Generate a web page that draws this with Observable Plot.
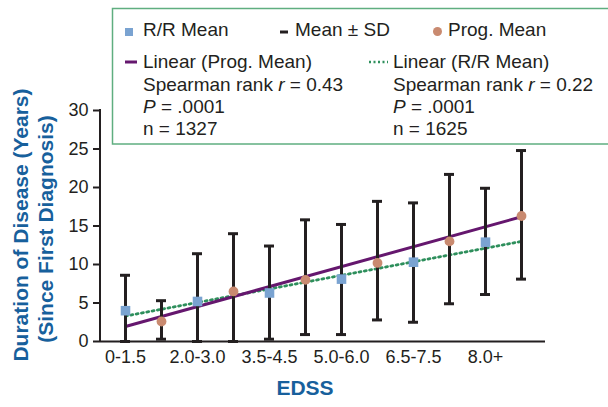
<!DOCTYPE html>
<html>
<head>
<meta charset="utf-8">
<script src="https://cdn.jsdelivr.net/npm/d3@7"></script>
<script src="https://cdn.jsdelivr.net/npm/@observablehq/plot@0.6"></script>
<style>
  html, body { margin: 0; padding: 0; background: #fff; overflow: hidden; }
  #chart { width: 608px; height: 407px; position: relative; }
  svg { font-family: "Liberation Sans", Arial, Helvetica, sans-serif; }
</style>
</head>
<body>
<div id="chart"></div>
<script>
// EDSS groups (x tick labels)
const groups = ["0-1.5", "2.0-3.0", "3.5-4.5", "5.0-6.0", "6.5-7.5", "8.0+"];
// Relapsing/remitting (R/R): mean and mean ± SD (years)
const rrMean  = [4.0, 5.2, 6.3, 8.1, 10.3, 12.9];
const rrUpper = [8.6, 11.4, 12.4, 15.2, 18.0, 19.9];
const rrLower = [0.0, 0.0, 0.3, 0.9, 2.5, 6.1];
// Progressive (Prog.): mean and mean ± SD (years)
const progMean  = [2.6, 6.5, 8.0, 10.2, 13.0, 16.3];
const progUpper = [5.3, 14.0, 15.8, 18.2, 21.7, 24.8];
const progLower = [0.3, 0.0, 0.9, 2.8, 4.9, 8.1];
// Linear trend lines: values at first and last category
const progTrend = [1.95, 16.2];
const rrTrend   = [3.3, 13.0];
const yTicks = [0, 5, 10, 15, 20, 25, 30];

// legend texts
const legendRow1 = ["R/R Mean", "Mean \u00b1 SD", "Prog. Mean"];
const legendProg = ["Linear (Prog. Mean)", "0.43", "1327"];
const legendRR   = ["Linear (R/R Mean)", "0.22", "1625"];
const pText = ".0001";

const rows = groups.flatMap((g, i) => [
  {key: g + "|R/R", group: g, series: "R/R", mean: rrMean[i], lo: rrLower[i], hi: rrUpper[i]},
  {key: g + "|Prog", group: g, series: "Prog", mean: progMean[i], lo: progLower[i], hi: progUpper[i]}
]);
const keys = rows.map(d => d.key);
const progLine = [{key: keys[0], v: progTrend[0]}, {key: keys[keys.length - 1], v: progTrend[1]}];
const rrLine = [{key: keys[0], v: rrTrend[0]}, {key: keys[keys.length - 1], v: rrTrend[1]}];

const ink = "#231f20";
const blue = "#17609c";
const W = 608, H = 407, mL = 100, mR = 63, mT = 110, mB = 66;

const plot = Plot.plot({
  width: W, height: H,
  marginLeft: mL, marginRight: mR, marginTop: mT, marginBottom: mB,
  style: {fontFamily: "Liberation Sans, Arial, sans-serif", color: ink, background: "transparent", overflow: "visible"},
  x: {type: "band", domain: keys, paddingInner: 0, paddingOuter: 0.05, label: null},
  y: {domain: [0, 30], label: null},
  marks: [
    Plot.axisY({ticks: yTicks, tickSize: 7, tickPadding: 5, fontSize: 18, strokeWidth: 2, label: null}),
    Plot.axisX({tickSize: 0, tickPadding: 9, fontSize: 18, label: null,
      tickFormat: k => k.endsWith("|R/R") ? k.split("|")[0] : ""}),
    Plot.ruleY([0], {stroke: ink, strokeWidth: 2}),
    Plot.line(rrLine, {x: "key", y: "v", stroke: "#2e8f5c", strokeWidth: 2.8, strokeDasharray: "2,3.4"}),
    Plot.line(progLine, {x: "key", y: "v", stroke: "#65176e", strokeWidth: 3}),
    Plot.ruleX(rows, {x: "key", y1: "lo", y2: "hi", stroke: ink, strokeWidth: 3}),
    Plot.tickY(rows, {x: "key", y: "hi", stroke: ink, strokeWidth: 3, insetLeft: 13, insetRight: 13}),
    Plot.tickY(rows, {x: "key", y: "lo", stroke: ink, strokeWidth: 3, insetLeft: 13, insetRight: 13}),
    Plot.dot(rows.filter(d => d.series === "R/R"), {x: "key", y: "mean", symbol: "square", r: 5.4, fill: "#7aa3d1", stroke: "none"}),
    Plot.dot(rows.filter(d => d.series === "Prog"), {x: "key", y: "mean", symbol: "circle", r: 4.9, fill: "#c98a70", stroke: "none"})
  ]
});
document.getElementById("chart").appendChild(plot);

const svg = d3.select(plot);
const ys = plot.scale("y");
// y axis line
svg.append("line").attr("x1", mL).attr("x2", mL)
  .attr("y1", ys.range[1] - 1).attr("y2", ys.range[0] + 1)
  .attr("stroke", ink).attr("stroke-width", 2);

// axis titles
const yl = svg.append("g").attr("fill", blue).attr("font-weight", "bold").attr("font-size", 21)
  .attr("text-anchor", "middle");
yl.append("text").attr("transform", "translate(28,225) rotate(-90)").text("Duration of Disease (Years)");
yl.append("text").attr("transform", "translate(53,229) rotate(-90)").text("(Since First Diagnosis)");
svg.append("text").attr("x", 305).attr("y", 395).attr("text-anchor", "middle")
  .attr("fill", blue).attr("font-weight", "bold").attr("font-size", 21).text("EDSS");

// legend
const lg = svg.append("g").attr("font-size", 19).attr("fill", ink).attr("text-anchor", "start");
lg.append("rect").attr("x", 112.5).attr("y", 8.5).attr("width", 560).attr("height", 135.5)
  .attr("fill", "#fff").attr("stroke", "#5fae80").attr("stroke-width", 1.5);
lg.append("rect").attr("x", 125).attr("y", 28).attr("width", 8).attr("height", 8).attr("fill", "#7aa3d1");
lg.append("text").attr("x", 143).attr("y", 36).text(legendRow1[0]);
lg.append("line").attr("x1", 280).attr("x2", 288).attr("y1", 32).attr("y2", 32).attr("stroke", ink).attr("stroke-width", 3);
lg.append("text").attr("x", 295).attr("y", 36).text(legendRow1[1]);
lg.append("circle").attr("cx", 437.5).attr("cy", 31.5).attr("r", 4.5).attr("fill", "#c98a70");
lg.append("text").attr("x", 448).attr("y", 36).text(legendRow1[2]);

lg.append("line").attr("x1", 125).attr("x2", 137).attr("y1", 62).attr("y2", 62).attr("stroke", "#65176e").attr("stroke-width", 3);
lg.append("line").attr("x1", 369).attr("x2", 388).attr("y1", 62).attr("y2", 62).attr("stroke", "#2e8f5c").attr("stroke-width", 2.5).attr("stroke-dasharray", "2,2.5");

function block(x, arr) {
  lg.append("text").attr("x", x).attr("y", 67.7).text(arr[0]);
  const t = lg.append("text").attr("x", x).attr("y", 90.7);
  t.append("tspan").text("Spearman rank ");
  t.append("tspan").attr("font-style", "italic").text("r");
  t.append("tspan").text(" = " + arr[1]);
  const p = lg.append("text").attr("x", x).attr("y", 112.7);
  p.append("tspan").attr("font-style", "italic").text("P");
  p.append("tspan").text(" = " + pText);
  lg.append("text").attr("x", x).attr("y", 135).text("n = " + arr[2]);
}
block(143, legendProg);
block(393, legendRR);
</script>
</body>
</html>
